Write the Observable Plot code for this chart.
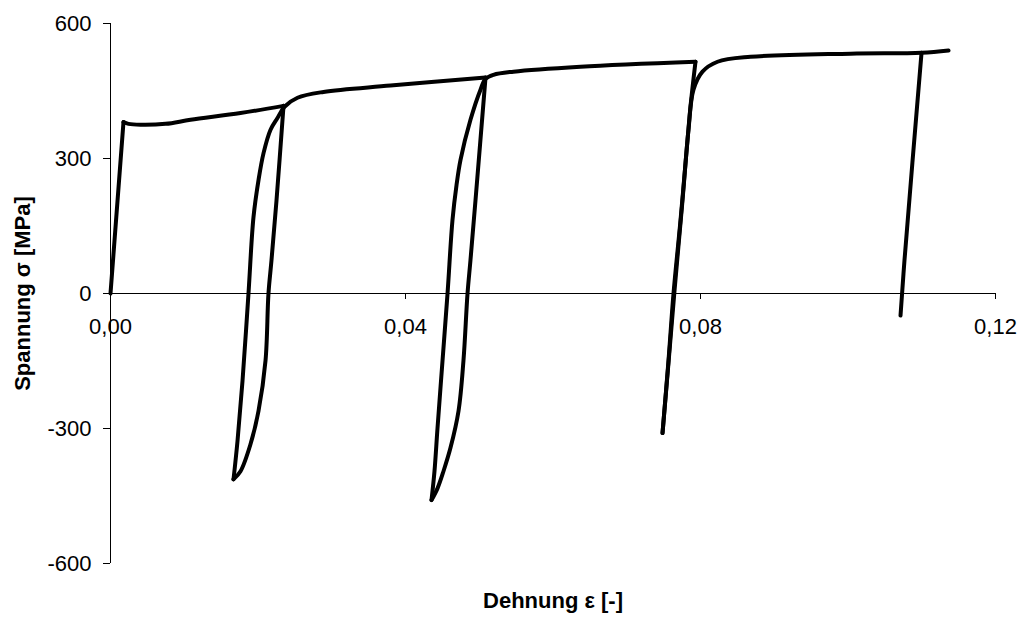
<!DOCTYPE html>
<html><head><meta charset="utf-8">
<script src="https://cdn.jsdelivr.net/npm/d3@7"></script>
<script src="https://cdn.jsdelivr.net/npm/@observablehq/plot@0.6"></script>
<style>body{margin:0;background:#fff}</style>
</head><body><div id="chart"></div>
<script>
// Stress–strain path, split into loading / unloading branches (shared end points repeated)
const branch = [
  "L0","L0",
  "L1","L1","L1","L1","L1","L1","L1",
  "U1","U1","U1","U1","U1","U1","U1","U1","U1",
  "R1","R1","R1","R1","R1","R1","R1","R1","R1","R1","R1","R1","R1","R1",
  "U2","U2","U2","U2","U2","U2","U2","U2","U2","U2",
  "R2","R2","R2","R2","R2","R2","R2","R2","R2","R2","R2","R2","R2","R2","R2",
  "U3","U3","U3","U3","U3","U3","U3",
  "R3","R3","R3","R3","R3","R3","R3","R3","R3","R3","R3","R3",
  "U4","U4","U4"
];
const strain = [
  0, 0.00176,
  0.00176, 0.00244, 0.00407, 0.00746, 0.01085, 0.01763, 0.02346,
  0.02346, 0.02251, 0.02183, 0.02142, 0.02102, 0.02007, 0.01898, 0.01763, 0.01668,
  0.01668, 0.01722, 0.0179, 0.01871, 0.01939, 0.02007, 0.02075, 0.0217, 0.02264, 0.02359, 0.02536, 0.02888, 0.03797, 0.05085,
  0.05085, 0.04949, 0.04881, 0.04841, 0.04786, 0.04719, 0.0461, 0.04515, 0.04434, 0.04353,
  0.04353, 0.04393, 0.04434, 0.04502, 0.0457, 0.04637, 0.04692, 0.04746, 0.04881, 0.05017, 0.05085, 0.05193, 0.05464, 0.06373, 0.07932,
  0.07932, 0.07864, 0.07824, 0.07729, 0.07634, 0.07566, 0.07485,
  0.07485, 0.07566, 0.07648, 0.07756, 0.07837, 0.07905, 0.08027, 0.08231, 0.08678, 0.10034, 0.10997, 0.11363,
  0.10997, 0.10766, 0.10712
];
const stress = [
  0, 381,
  381, 377, 375, 377, 386, 401, 417,
  417, 207, 74, 0, -149, -261, -335, -395, -413,
  -413, -328, -194, 0, 170, 252, 312, 364, 390, 415, 435, 448, 462, 480,
  480, 207, 74, 0, -149, -261, -343, -395, -433, -459,
  -459, -395, -299, -149, 0, 163, 241, 297, 386, 453, 477, 486, 493, 504, 515,
  515, 415, 341, 163, 0, -149, -310,
  -310, -154, 7, 207, 364, 453, 493, 515, 526, 533, 535, 540,
  535, 74, -49
];

const xTicks = [0, 0.04, 0.08, 0.12];
const yTicks = [-600, -300, 0, 300, 600];
const xTitle = "Dehnung ε [-]";
const yTitle = "Spannung σ [MPa]";

const points = strain.map((s, i) => ({strain: s, stress: stress[i], branch: branch[i]}));

const W = 1023, H = 621;
const fmtX = d => d.toFixed(2).replace(".", ",");

const chart = Plot.plot({
  width: W, height: H,
  marginLeft: 110, marginRight: 28, marginTop: 23, marginBottom: 58,
  style: {fontFamily: "'Liberation Sans', Arial, sans-serif", fontSize: "22px", background: "white", color: "black", overflow: "visible"},
  x: {domain: [0, 0.12], axis: null},
  y: {domain: [-600, 600]},
  marks: [
    Plot.ruleX([0], {y1: -600, y2: 600, stroke: "black", strokeWidth: 1}),
    Plot.ruleY([0], {x1: 0, x2: 0.12, stroke: "black", strokeWidth: 1}),
    Plot.axisY(yTicks, {tickSize: 7, tickPadding: 12, tickFormat: d => String(d), label: null}),
    Plot.ruleX(xTicks, {x: d => d, y1: 0, y2: 0, insetBottom: -6, stroke: "black", strokeWidth: 1}),
    Plot.text(xTicks, {x: d => d, y: 0, text: fmtX, dy: 25, lineAnchor: "top"}),
    Plot.line(points, {x: "strain", y: "stress", z: "branch", curve: "catmull-rom", stroke: "black", strokeWidth: 4, strokeLinejoin: "round", strokeLinecap: "round"}),
    Plot.text([xTitle], {frameAnchor: "bottom", dy: 44, fontWeight: "bold"}),
    Plot.text([yTitle], {frameAnchor: "left", textAnchor: "middle", dx: -88, dy: 0, rotate: -90, fontWeight: "bold"})
  ]
});
document.getElementById("chart").appendChild(chart);
</script>
</body></html>
